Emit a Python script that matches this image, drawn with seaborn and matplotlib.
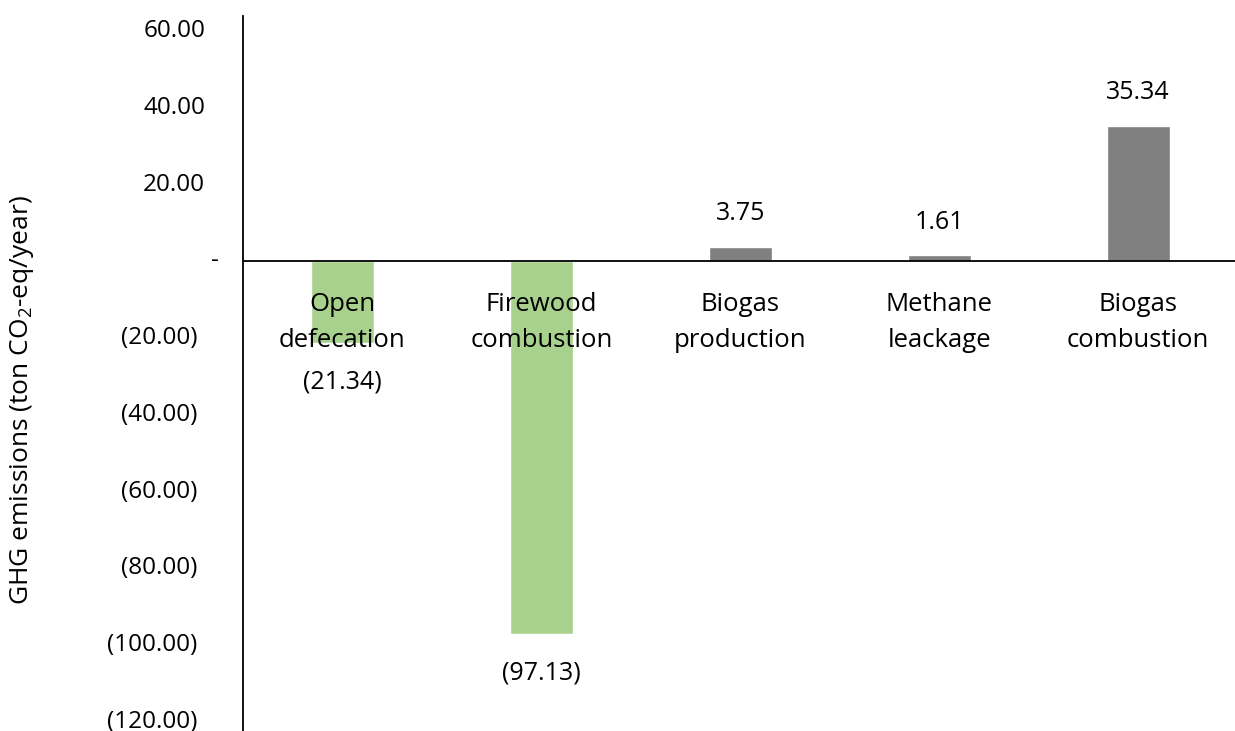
import matplotlib
matplotlib.use("Agg")
import matplotlib.pyplot as plt
from matplotlib.transforms import offset_copy
import seaborn as sns
import pandas as pd

# Annual GHG emissions by source (ton CO2-eq/year); negatives are avoided emissions
categories = ["Open\ndefecation", "Firewood\ncombustion", "Biogas\nproduction",
              "Methane\nleackage", "Biogas\ncombustion"]
values = [-21.34, -97.13, 3.75, 1.61, 35.34]
value_labels = ["(21.34)", "(97.13)", "3.75", "1.61", "35.34"]
bar_colors = ["#A9D18E", "#A9D18E", "#808080", "#808080", "#808080"]
y_ticks = [60, 40, 20, 0, -20, -40, -60, -80, -100, -120]
y_tick_labels = ["60.00", "40.00", "20.00", "-", "(20.00)", "(40.00)",
                 "(60.00)", "(80.00)", "(100.00)", "(120.00)"]

sns.set_theme(style="white")
plt.rcParams["font.family"] = ["Open Sans", "DejaVu Sans"]
plt.rcParams["mathtext.fontset"] = "custom"
plt.rcParams["mathtext.rm"] = "Open Sans"
plt.rcParams["mathtext.default"] = "regular"
plt.rcParams["text.color"] = "black"

FS_TICK = 17.5
FS_CAT = 18.5
FS_VAL = 18
FS_YLAB = 19

fig = plt.figure(figsize=(12.35, 7.31), dpi=100)
ax = fig.add_axes([243 / 1235, 0.0, (1237.5 - 243) / 1235, (731 - 16) / 731])

df = pd.DataFrame({"cat": categories, "val": values})
sns.barplot(data=df, x="cat", y="val", hue="cat", palette=bar_colors,
            legend=False, width=0.317, saturation=1, ax=ax)

ax.set_xlim(-0.5, 4.5)
ax.set_ylim(-122.4, 63.93)
ax.axhline(0, color="black", lw=1.3, zorder=3)

for side in ["top", "right", "bottom"]:
    ax.spines[side].set_visible(False)
ax.spines["left"].set_color("black")
ax.spines["left"].set_linewidth(1.3)

ax.set_xticks([])
ax.set_xlabel("")
ax.set_yticks(y_ticks)
ax.set_yticklabels([])
ax.tick_params(axis="y", length=0)
ax.set_ylabel("")

# Y tick labels in accounting style
ytrans = ax.get_yaxis_transform()
for yv, lab in zip(y_ticks, y_tick_labels):
    if lab == "-":
        tr = offset_copy(ytrans, fig=fig, x=-28, y=0, units="dots")
        ax.text(0, yv, lab, transform=tr, ha="center", va="center", fontsize=FS_TICK)
    elif lab.startswith("("):
        tr = offset_copy(ytrans, fig=fig, x=-46, y=0, units="dots")
        ax.text(0, yv, lab, transform=tr, ha="right", va="center", fontsize=FS_TICK)
    else:
        tr = offset_copy(ytrans, fig=fig, x=-38, y=0, units="dots")
        ax.text(0, yv, lab, transform=tr, ha="right", va="center", fontsize=FS_TICK)

# Category labels just below the zero line
for i, cat in enumerate(categories):
    tr = offset_copy(ax.transData, fig=fig, x=0, y=-61, units="dots")
    ax.text(i, 0, cat, transform=tr, ha="center", va="center",
            fontsize=FS_CAT, linespacing=1.6, zorder=4)

# Value labels at the bar ends
for i, (v, lab) in enumerate(zip(values, value_labels)):
    dy = 33 if v >= 0 else -39
    tr = offset_copy(ax.transData, fig=fig, x=0, y=dy, units="dots")
    ax.text(i, v, lab, transform=tr, ha="center", va="center", fontsize=FS_VAL, zorder=4)

fig.text(22 / 1235, 1 - 400 / 731, "GHG emissions (ton CO$_2$-eq/year)",
         rotation=90, ha="center", va="center", fontsize=FS_YLAB)

fig.savefig("out.png", dpi=100)
